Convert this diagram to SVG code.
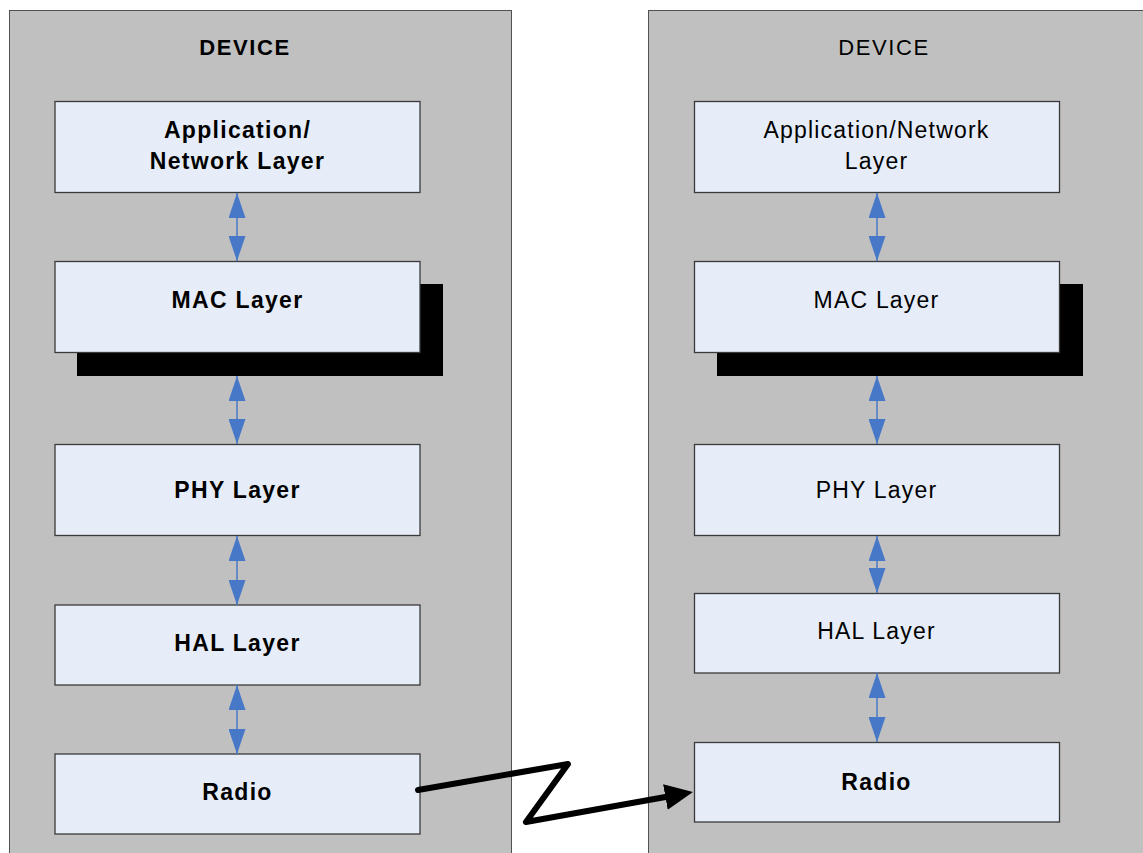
<svg xmlns="http://www.w3.org/2000/svg" width="1143" height="853" viewBox="0 0 1143 853">
<defs>
<style>
.panel{fill:#c0c0c0;stroke:#505050;stroke-width:1}
.box{fill:#e6edf8;stroke:#3a3a3a;stroke-width:1.3}
.shadow{fill:#000}
.lb{font-family:"Liberation Sans",Arial,sans-serif;font-weight:bold;font-size:23px;letter-spacing:1.3px;fill:#000;text-anchor:middle}
.lr{font-family:"Liberation Sans",Arial,sans-serif;font-size:23px;letter-spacing:1.2px;fill:#000;text-anchor:middle}
.title{font-size:22px;letter-spacing:1.6px}
.blue{stroke:#4778c7;stroke-width:1.5;fill:none;marker-start:url(#bh);marker-end:url(#bh)}
.zig{stroke:#000;stroke-width:6;fill:none;stroke-linejoin:round;stroke-linecap:round;marker-end:url(#kh)}
</style>
<marker id="bh" viewBox="0 0 25 17" refX="25" refY="8.5" markerWidth="25" markerHeight="17" markerUnits="userSpaceOnUse" orient="auto-start-reverse">
<path d="M0,0 L25,8.5 L0,17 z" fill="#4778c7"/>
</marker>
<marker id="kh" viewBox="0 0 28 26" refX="0" refY="13" markerWidth="28" markerHeight="26" markerUnits="userSpaceOnUse" orient="auto">
<path d="M0,0 L28,13 L0,26 z" fill="#000"/>
</marker>
</defs>
<g id="device-left">
<rect class="panel" x="9.5" y="10.5" width="502" height="860"/>
<text class="lb title" x="245" y="55">DEVICE</text>
</g>
<g id="device-right">
<rect class="panel" x="648.5" y="10.5" width="520" height="860"/>
<text class="lr title" x="884" y="55">DEVICE</text>
</g>
<g id="left-app">
<rect class="box" x="55" y="101.5" width="365" height="91"/>
<text class="lb" x="237.5" y="138">Application/</text>
<text class="lb" x="237.5" y="169">Network Layer</text>
</g>
<g id="left-mac">
<rect class="shadow" x="77" y="284" width="366" height="92"/>
<rect class="box" x="55" y="261.5" width="365" height="91"/>
<text class="lb" x="237.5" y="308">MAC Layer</text>
</g>
<g id="left-phy">
<rect class="box" x="55" y="444.5" width="365" height="91"/>
<text class="lb" x="237.5" y="498">PHY Layer</text>
</g>
<g id="left-hal">
<rect class="box" x="55" y="605" width="365" height="80"/>
<text class="lb" x="237.5" y="651">HAL Layer</text>
</g>
<g id="left-radio">
<rect class="box" x="55" y="754" width="365" height="80"/>
<text class="lb" x="237.5" y="800">Radio</text>
</g>
<g id="right-app">
<rect class="box" x="694.5" y="101.5" width="365" height="91"/>
<text class="lr" x="876.5" y="138">Application/Network</text>
<text class="lr" x="876.5" y="169">Layer</text>
</g>
<g id="right-mac">
<rect class="shadow" x="717" y="284" width="366" height="92"/>
<rect class="box" x="694.5" y="261.5" width="365" height="91"/>
<text class="lr" x="876.5" y="308">MAC Layer</text>
</g>
<g id="right-phy">
<rect class="box" x="694.5" y="444.5" width="365" height="91"/>
<text class="lr" x="876.5" y="498">PHY Layer</text>
</g>
<g id="right-hal">
<rect class="box" x="694.5" y="593.5" width="365" height="79.5"/>
<text class="lr" x="876.5" y="639">HAL Layer</text>
</g>
<g id="right-radio">
<rect class="box" x="694.5" y="742.5" width="365" height="79.5"/>
<text class="lb" x="876.5" y="790">Radio</text>
</g>
<g id="connectors">
<path class="blue" d="M237,193 L237,261"/>
<path class="blue" d="M237,376 L237,444"/>
<path class="blue" d="M237,536 L237,605"/>
<path class="blue" d="M237,685 L237,754"/>
<path class="blue" d="M877,193 L877,261"/>
<path class="blue" d="M877,376 L877,444"/>
<path class="blue" d="M877,536 L877,593"/>
<path class="blue" d="M877,673 L877,742"/>
<path class="zig" d="M418,790 L568,764 L526,822 L665.4,797"/>
</g>
</svg>
